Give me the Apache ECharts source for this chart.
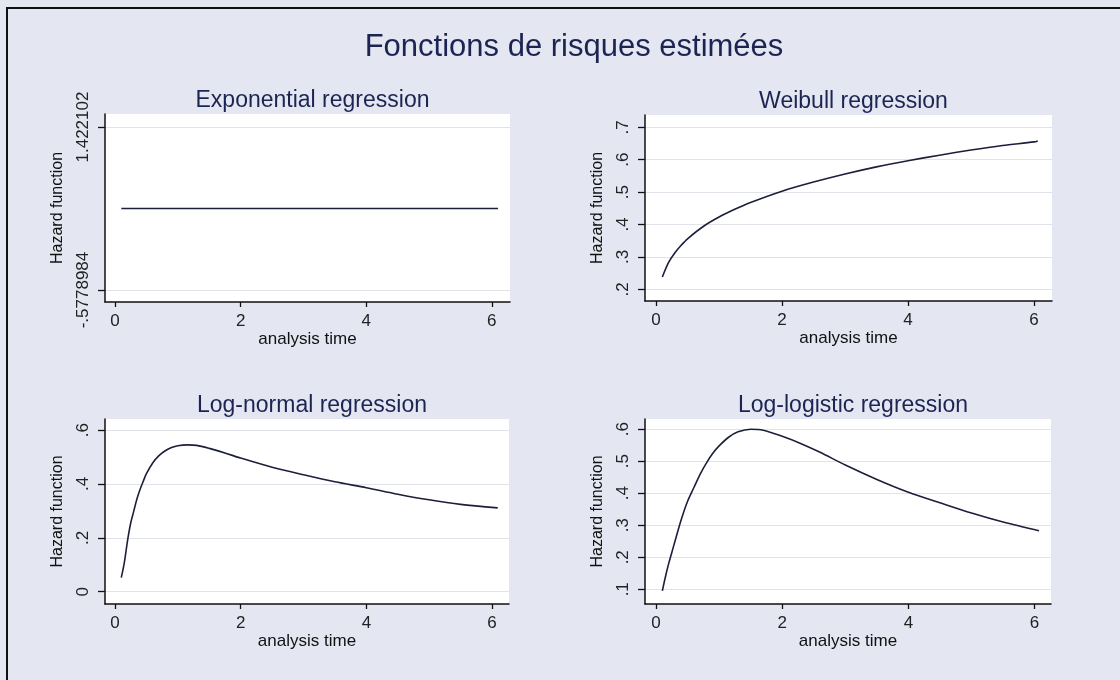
<!DOCTYPE html>
<html>
<head>
<meta charset="utf-8">
<title>Fonctions de risques estimées</title>
<script src="https://cdn.jsdelivr.net/npm/echarts@6/dist/echarts.min.js"></script>
<style>
  html, body { margin: 0; padding: 0; background: #e4e6f2; }
  #chart { width: 1120px; height: 680px; }
</style>
</head>
<body>
<div id="chart"></div>
<script>
// ---- Estimated hazard functions, one array pair per model ----
const expTime   = [0.10, 1.00, 2.00, 3.00, 4.00, 5.00, 6.10];
const expHazard = [0.4221, 0.4221, 0.4221, 0.4221, 0.4221, 0.4221, 0.4221];

const wbTime   = [0.10, 0.20, 0.30, 0.40, 0.50, 0.75, 1.00, 1.25, 1.50, 2.00, 2.50, 3.00, 3.50, 4.00, 4.50, 5.00, 5.50, 6.00, 6.06];
const wbHazard = [0.238, 0.283, 0.313, 0.336, 0.356, 0.394, 0.423, 0.447, 0.468, 0.503, 0.531, 0.556, 0.578, 0.597, 0.614, 0.630, 0.644, 0.655, 0.658];

const lnTime   = [0.10, 0.15, 0.20, 0.25, 0.30, 0.35, 0.40, 0.45, 0.50, 0.60, 0.70, 0.80, 0.90, 1.00, 1.15, 1.30, 1.50, 1.75, 2.00, 2.50, 3.00, 3.50, 4.00, 4.50, 5.00, 5.50, 6.09];
const lnHazard = [0.052, 0.110, 0.190, 0.255, 0.300, 0.345, 0.380, 0.410, 0.438, 0.478, 0.505, 0.523, 0.535, 0.542, 0.545, 0.543, 0.532, 0.515, 0.496, 0.462, 0.434, 0.408, 0.386, 0.362, 0.341, 0.324, 0.311];

const llTime   = [0.10, 0.15, 0.20, 0.25, 0.30, 0.40, 0.50, 0.60, 0.70, 0.80, 0.90, 1.00, 1.15, 1.30, 1.50, 1.70, 2.00, 2.30, 2.60, 3.00, 3.50, 4.00, 4.50, 5.00, 5.50, 6.07];
const llHazard = [0.095, 0.140, 0.180, 0.215, 0.250, 0.318, 0.375, 0.418, 0.460, 0.495, 0.525, 0.548, 0.575, 0.592, 0.600, 0.597, 0.578, 0.555, 0.528, 0.488, 0.443, 0.403, 0.370, 0.338, 0.310, 0.283];

// ---- Tick values ----
const timeTicks = [0, 2, 4, 6];
const expTicks  = [-0.5778984, 1.422102];
const wbTicks   = [0.2, 0.3, 0.4, 0.5, 0.6, 0.7];
const lnTicks   = [0, 0.2, 0.4, 0.6];
const llTicks   = [0.1, 0.2, 0.3, 0.4, 0.5, 0.6];

const panelTitles = ['Exponential regression', 'Weibull regression', 'Log-normal regression', 'Log-logistic regression'];
const mainTitle = 'Fonctions de risques estimées';
const xName = 'analysis time';
const yName = 'Hazard function';

// ---- Layout of the four plot regions ----
const FONT = '"Liberation Sans", Arial, Helvetica, sans-serif';
const INK = '#111111';
const NAVY = '#1c2452';

const panels = [
  { grid: { left: 105, top: 114, width: 405, height: 188 }, x: [-0.16, 6.29],  y: [-0.725, 1.582], t: expTime, h: expHazard, ticks: expTicks },
  { grid: { left: 645, top: 115, width: 407, height: 186 }, x: [-0.175, 6.286], y: [0.164, 0.738], t: wbTime,  h: wbHazard,  ticks: wbTicks },
  { grid: { left: 105, top: 419, width: 404, height: 185 }, x: [-0.159, 6.27], y: [-0.0456, 0.641], t: lnTime, h: lnHazard,  ticks: lnTicks },
  { grid: { left: 645, top: 419, width: 406, height: 185 }, x: [-0.175, 6.26], y: [0.054, 0.632],  t: llTime,  h: llHazard,  ticks: llTicks }
];

// Stata-style numbers: no leading zero (".5", "-.5778984")
function stataNum(v) {
  const s = String(+Number(v).toFixed(7));
  return s.replace(/^(-?)0\./, '$1.');
}

const option = {
  backgroundColor: '#e4e6f2',
  animation: false,
  title: [
    { text: mainTitle, left: 569, top: 27, textAlign: 'center',
      textStyle: { fontSize: 31, fontWeight: 'normal', color: NAVY, fontFamily: FONT } }
  ].concat(panels.map((p, i) => ({
    text: panelTitles[i],
    left: p.grid.left + p.grid.width / 2,
    top: p.grid.top - 30,
    textAlign: 'center',
    textStyle: { fontSize: 23, fontWeight: 'normal', color: NAVY, fontFamily: FONT }
  }))),
  grid: panels.map(p => Object.assign({
    show: true, backgroundColor: '#ffffff', borderWidth: 0, containLabel: false
  }, p.grid)),
  xAxis: panels.map((p, i) => ({
    type: 'value', gridIndex: i, min: p.x[0], max: p.x[1],
    name: xName, nameLocation: 'middle', nameGap: 28,
    nameTextStyle: { fontSize: 17, color: INK, fontFamily: FONT },
    axisLine: { show: true, onZero: false, lineStyle: { color: INK, width: 1.5 } },
    axisTick: { show: true, length: 5, customValues: timeTicks, lineStyle: { color: INK, width: 1.3 } },
    axisLabel: { customValues: timeTicks, fontSize: 17, color: '#222', margin: 11, fontFamily: FONT,
                 formatter: v => stataNum(v) },
    splitLine: { show: false }
  })),
  yAxis: panels.map((p, i) => ({
    type: 'value', gridIndex: i, min: p.y[0], max: p.y[1],
    name: yName, nameLocation: 'middle', nameRotate: 90, nameGap: 39,
    nameTextStyle: { fontSize: 16, color: INK, fontFamily: FONT },
    axisLine: { show: true, onZero: false, lineStyle: { color: INK, width: 1.5 } },
    axisTick: { show: true, length: 7, customValues: p.ticks, lineStyle: { color: INK, width: 1.3 } },
    axisLabel: { customValues: p.ticks, rotate: 90, fontSize: 17, color: '#222', margin: 13, fontFamily: FONT,
                 formatter: v => stataNum(v) },
    splitLine: { show: true, lineStyle: { color: '#e2e3ea', width: 1.2 } }
  })),
  series: panels.map((p, i) => ({
    type: 'line', xAxisIndex: i, yAxisIndex: i,
    data: p.t.map((t, k) => [t, p.h[k]]),
    showSymbol: false, smooth: 0.3,
    lineStyle: { color: '#1c1f3a', width: 1.6 },
    silent: true
  })),
  graphic: [
    { type: 'polyline', shape: { points: [[7, 680], [7, 8], [1120, 8]] },
      style: { stroke: INK, lineWidth: 2, fill: null }, silent: true }
  ]
};

const chart = echarts.init(document.getElementById('chart'), null, { renderer: 'canvas' });
chart.setOption(option);
</script>
</body>
</html>
